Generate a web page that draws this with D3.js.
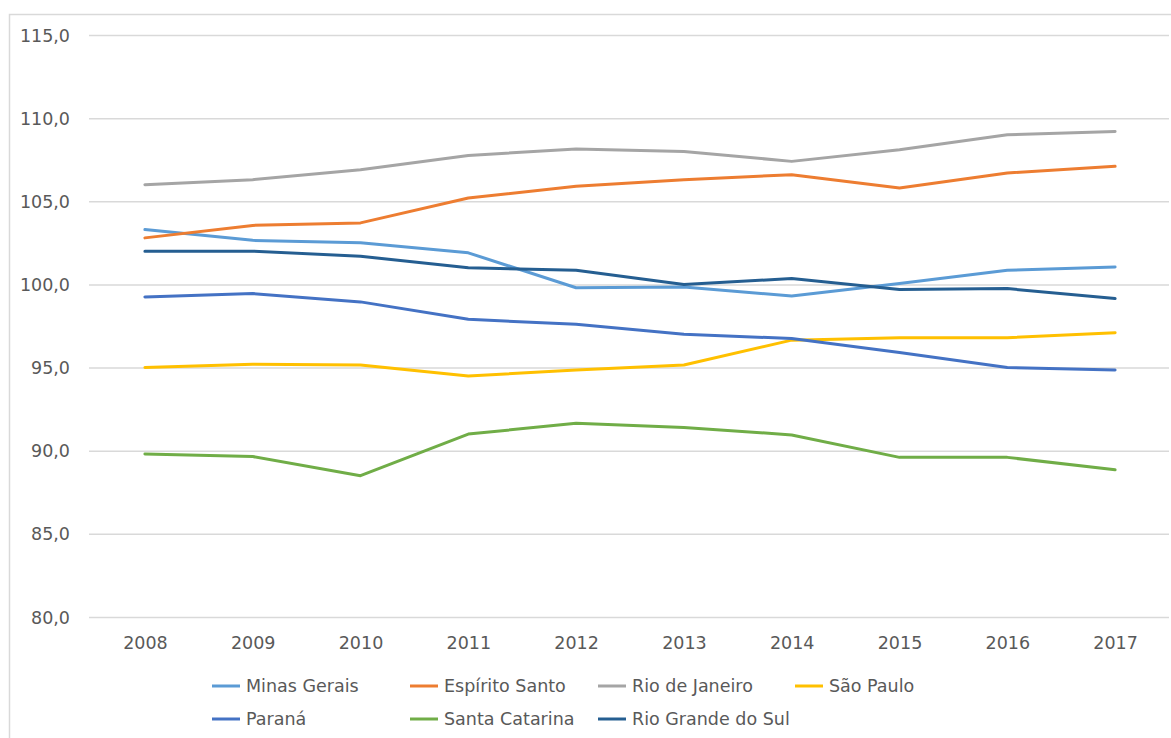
<!DOCTYPE html>
<html>
<head>
<meta charset="utf-8">
<script src="https://cdn.jsdelivr.net/npm/d3@7"></script>
<style>
  body { margin: 0; background: #fff; }
  svg text { font-family: "DejaVu Sans", sans-serif; fill: #595959; }
</style>
</head>
<body>
<div id="chart"></div>
<script>
// data
var years = ["2008", "2009", "2010", "2011", "2012", "2013", "2014", "2015", "2016", "2017"];
var yTicks = [80, 85, 90, 95, 100, 105, 110, 115];

var minasGerais     = [103.3, 102.65, 102.5, 101.9, 99.8, 99.85, 99.3, 100.05, 100.85, 101.05];
var espiritoSanto   = [102.8, 103.55, 103.7, 105.2, 105.9, 106.3, 106.6, 105.8, 106.7, 107.1];
var rioDeJaneiro    = [106.0, 106.3, 106.9, 107.75, 108.15, 108.0, 107.4, 108.1, 109.0, 109.2];
var saoPaulo        = [95.0, 95.2, 95.15, 94.5, 94.85, 95.15, 96.65, 96.8, 96.8, 97.1];
var parana          = [99.25, 99.45, 98.95, 97.9, 97.6, 97.0, 96.75, 95.9, 95.0, 94.85];
var santaCatarina   = [89.8, 89.65, 88.5, 91.0, 91.65, 91.4, 90.95, 89.6, 89.6, 88.85];
var rioGrandeDoSul  = [102.0, 102.0, 101.7, 101.0, 100.85, 100.0, 100.35, 99.7, 99.75, 99.15];

var seriesNames  = ["Minas Gerais", "Espírito Santo", "Rio de Janeiro", "São Paulo",
                    "Paraná", "Santa Catarina", "Rio Grande do Sul"];
var seriesValues = [minasGerais, espiritoSanto, rioDeJaneiro, saoPaulo,
                    parana, santaCatarina, rioGrandeDoSul];
var seriesColors = ["#5b9bd5", "#ed7d31", "#a5a5a5", "#ffc000", "#4472c4", "#70ad47", "#255e91"];

var W = 1171, H = 738;
var plot = {left: 91, right: 1169, top: 35, bottom: 617};

var svg = d3.select("#chart")
    .append("svg")
    .attr("width", W)
    .attr("height", H);

// outer chart border
svg.append("rect")
    .attr("x", 9.5).attr("y", 14.5)
    .attr("width", W).attr("height", H)
    .attr("fill", "none")
    .attr("stroke", "#d9d9d9")
    .attr("stroke-width", 1.5);

var x = d3.scalePoint()
    .domain(years)
    .range([plot.left, plot.right])
    .padding(0.5);

var y = d3.scaleLinear()
    .domain([80, 115])
    .range([plot.bottom, plot.top]);

// horizontal gridlines + value labels
var yAxis = svg.append("g")
    .attr("transform", "translate(" + (plot.left - 2) + ",0)")
    .call(d3.axisLeft(y)
        .tickValues(yTicks)
        .tickSize(-(plot.right - plot.left + 2))
        .tickPadding(19)
        .tickFormat(function(d){ return d3.format(".1f")(d).replace(".", ","); }));
yAxis.select(".domain").remove();
yAxis.selectAll(".tick line")
    .attr("stroke", "#d9d9d9")
    .attr("stroke-width", 1.5);
yAxis.selectAll(".tick text")
    .style("font-size", "17.5px")
    .attr("dy", "0.35em");

// category labels
var xAxis = svg.append("g")
    .attr("transform", "translate(0," + plot.bottom + ")")
    .call(d3.axisBottom(x).tickSize(0).tickPadding(20));
xAxis.select(".domain").remove();
xAxis.selectAll(".tick text")
    .style("font-size", "17.5px");

// the lines
var line = d3.line()
    .x(function(d, i){ return x(years[i]); })
    .y(function(d){ return y(d); });

svg.selectAll("mylines")
    .data(seriesValues)
    .enter()
    .append("path")
    .attr("d", function(d){ return line(d); })
    .attr("fill", "none")
    .attr("stroke", function(d, i){ return seriesColors[i]; })
    .attr("stroke-width", 3)
    .attr("stroke-linejoin", "round")
    .attr("stroke-linecap", "round");

// legend, two rows of four columns like the original
var legendCols = [212, 410, 598, 795];
var legendRows = [686, 719];

var legend = svg.selectAll("mylegend")
    .data(seriesNames)
    .enter()
    .append("g")
    .attr("transform", function(d, i){
        return "translate(" + legendCols[i % 4] + "," + legendRows[Math.floor(i / 4)] + ")";
    });

legend.append("line")
    .attr("x1", 0).attr("x2", 28)
    .attr("y1", 0).attr("y2", 0)
    .attr("stroke", function(d, i){ return seriesColors[i]; })
    .attr("stroke-width", 3);

legend.append("text")
    .attr("x", 34)
    .attr("dy", "0.35em")
    .style("font-size", "17.5px")
    .text(function(d){ return d; });
</script>
</body>
</html>
